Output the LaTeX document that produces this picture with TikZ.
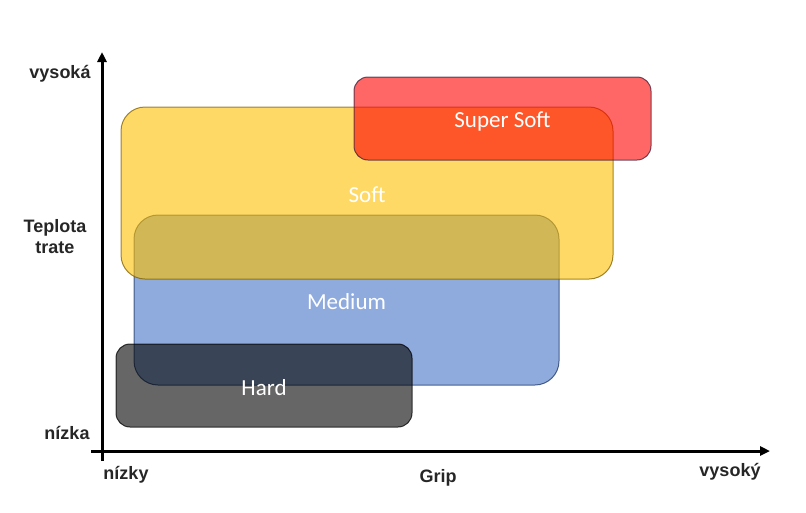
\documentclass[tikz,border=0pt]{standalone}
\usepackage{fontspec}
\setmainfont{Carlito}
\newfontfamily\arialfont{Liberation Sans}
\usetikzlibrary{arrows.meta}
\definecolor{cyellow}{HTML}{FFC000}
\definecolor{cblue}{HTML}{4472C4}
\definecolor{cred}{HTML}{FF0000}
\definecolor{cblack}{HTML}{000000}
\definecolor{byellow}{HTML}{7F6000}
\definecolor{bblue}{HTML}{1F3864}
\definecolor{bred}{HTML}{3A1F3A}
\tikzset{
  band/.style={rounded corners=#1, fill opacity=0.6, draw opacity=0.75, line width=1pt, inner sep=0pt},
  bandlabel/.style={text=white, font=\fontsize{23}{26}\selectfont, inner sep=0pt},
  axis/.style={line width=3pt, -{Triangle[length=10pt,width=9pt]}},
  axlabel/.style={font=\arialfont\bfseries\fontsize{18}{21}\selectfont, text=black!85, align=center, inner sep=0pt}
}
\begin{document}
\begin{tikzpicture}[x=1pt,y=-1pt]
\useasboundingbox (0,0) rectangle (806,512);
% bands
\node[band=24pt, fill=cblue, draw=bblue, minimum width=425pt, minimum height=170pt] (medium) at (346.5,300) {};
\node[band=24pt, fill=cyellow, draw=byellow, minimum width=492pt, minimum height=172pt] (soft) at (367,193) {};
\node[band=14pt, fill=cred, draw=bred, minimum width=297pt, minimum height=83pt] (supersoft) at (502.5,118.5) {};
\node[band=14pt, fill=cblack, draw=cblack, minimum width=296pt, minimum height=83pt] (hard) at (264,385.5) {};
% band labels
\node[bandlabel] (medium-l) at ([yshift=-2pt]medium.center) {Medium};
\node[bandlabel] (soft-l) at ([yshift=-1.5pt]soft.center) {Soft};
\node[bandlabel] (supersoft-l) at ([yshift=-2.5pt]supersoft.center) {Super Soft};
\node[bandlabel] (hard-l) at ([yshift=-2pt]hard.center) {Hard};
% axes
\coordinate (vbot) at (102,461);
\coordinate (vtop) at (102,52);
\coordinate (hleft) at (91,451);
\coordinate (hright) at (770,451);
\draw[axis] (vbot) -- (vtop);
\draw[axis] (hleft) -- (hright);
% axis labels
\node[axlabel] (vysoka) at (60,74) {vysoká};
\node[axlabel] (teplota) at (55,237) {Teplota\\trate};
\node[axlabel] (nizka) at (67,433) {nízka};
\node[axlabel] (nizky) at (126,475) {nízky};
\node[axlabel] (grip) at (438,478) {Grip};
\node[axlabel] (vysoky) at (730,472) {vysoký};
\end{tikzpicture}
\end{document}
